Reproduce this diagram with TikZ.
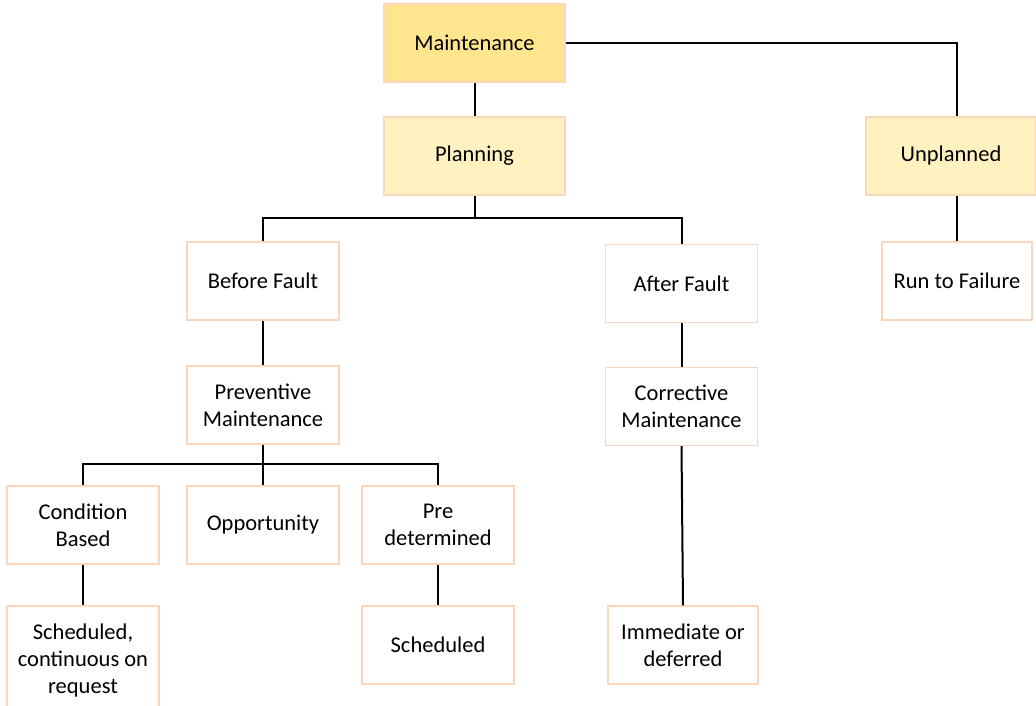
\documentclass[tikz,border=0pt]{standalone}
\usepackage{fontspec}
\setmainfont{Carlito}
\usepackage{tikz}
\usetikzlibrary{positioning}
\definecolor{edge}{RGB}{250,214,188}
\definecolor{top}{RGB}{255,230,142}
\definecolor{mid}{RGB}{255,242,192}

\begin{document}
\begin{tikzpicture}[x=1pt,y=1pt,
  b/.style={draw=edge,fill=white,line width=1.2pt,minimum width=152pt,minimum height=78pt,
            align=center,font=\fontsize{22.5}{27}\selectfont,inner sep=2pt},
  l/.style={line width=2pt,black}]
  \useasboundingbox (0,0) rectangle (1036,705);
  \node[b,fill=top,minimum width=181pt] (m) at (474.5,662) {Maintenance};
  \node[b,fill=mid,minimum width=181pt] (p) at (474.5,549) {Planning};
  \node[b,fill=mid,minimum width=170pt] (u) at (951,549) {Unplanned};
  \node[b,minimum width=150pt] (rf) at (957,424) {Run to Failure};
  \node[b] (bf) at (263,424) {Before Fault};
  \node[b] (af) at (681.5,421.5) {After Fault};
  \node[b] (pm) at (263,300) {Preventive\\Maintenance};
  \node[b] (cm) at (681.5,298.5) {Corrective\\Maintenance};
  \node[b] (cb) at (83,180) {Condition\\Based};
  \node[b] (op) at (263,180) {Opportunity};
  \node[b] (pd) at (438,180) {Pre\\determined};
  \node[b,minimum height=108pt] (sc) at (83,45) {Scheduled,\\continuous on\\request};
  \node[b] (sd) at (438,60) {Scheduled};
  \node[b,minimum width=150pt] (im) at (683,60) {Immediate or\\deferred};
  % tree lines
  \draw[l] (m) -- (p);
  \draw[l] (m.east) -| (rf.north |- u.north);
  \draw[l] (rf.north |- u.south) -- (rf.north);
  \coordinate (j1) at (474.5,487);
  \draw[l] (p.south) -- (j1);
  \draw[l] (bf.north) |- (j1) -| (af.north);
  \draw[l] (bf) -- (pm);
  \draw[l] (af) -- (cm);
  \coordinate (j2) at (263,241);
  \draw[l] (pm.south) -- (j2);
  \draw[l] (cb.north) |- (j2) -| (pd.north);
  \draw[l] (j2) -- (op.north);
  \draw[l] (cb) -- (sc);
  \draw[l] (pd) -- (sd);
  \draw[l] (cm.south) -- (im.north);
\end{tikzpicture}
\end{document}
